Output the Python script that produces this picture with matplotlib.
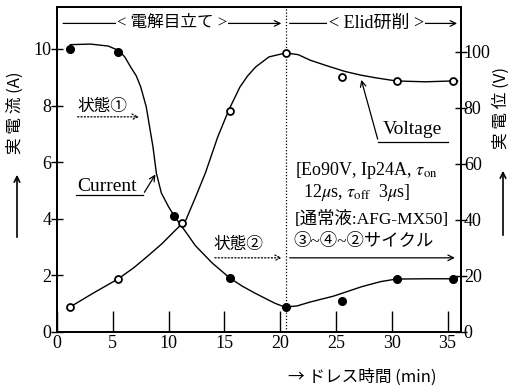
import numpy as np
from matplotlib import pyplot as plt
from matplotlib.patches import FancyArrowPatch

plt.rcParams['mathtext.fontset'] = 'stix'
SERIF = ['Liberation Serif', 'Noto Sans CJK JP']
JP = ['Noto Sans CJK JP', 'DejaVu Sans']

# measured points
cur_x = [1.2, 5.5, 10.5, 15.5, 20.5, 25.5, 30.5, 35.5]
cur_y = [10.0, 9.9, 4.1, 1.9, 0.88, 1.1, 1.87, 1.87]
volt_x = [1.2, 5.5, 11.2, 15.5, 20.5, 25.5, 30.5, 35.5]
volt_y = [9, 19, 39, 79, 99.5, 91, 89.5, 89.5]

# hand-drawn fitted curves
cur_cx = [1.2, 3.0, 4.6, 5.6, 6.1, 6.6, 7.1, 7.5, 8.0, 8.3, 8.6, 8.9, 9.35,
          10.0, 10.5, 11.6, 12.4, 13.9, 15.5, 16.6, 17.7, 18.6, 19.5, 20.4,
          21.5, 22.7, 24.8, 27.3, 29.0, 30.4, 33.0, 35.4, 35.9]
cur_cy = [10.15, 10.17, 10.1, 9.93, 9.7, 9.36, 9.05, 8.66, 7.95, 7.24, 6.54,
          5.62, 4.91, 4.42, 4.1, 3.5, 3.05, 2.44, 1.9, 1.62, 1.38, 1.2, 1.02,
          0.88, 0.92, 1.06, 1.27, 1.6, 1.78, 1.87, 1.88, 1.88, 1.95]
volt_cx = [1.2, 3.3, 5.5, 6.9, 8.1, 9.4, 10.45, 11.55, 12.4, 13.3, 14.4, 15.4,
           16.4, 17.1, 17.8, 19.0, 20.5, 21.6, 22.7, 24.2, 25.8, 27.2, 28.6,
           30.4, 33.0, 35.4, 35.9]
volt_cy = [9, 14, 19, 23, 27, 31.5, 35.7, 40, 48, 56.8, 69.6, 79.3, 87.5, 91.5,
           94.6, 98.2, 99.6, 99, 97, 95, 93, 91.7, 90.7, 89.6, 89.3, 89.6, 89.6]

x_ticks = [0, 5, 10, 15, 20, 25, 30, 35]
cur_ticks = [0, 2, 4, 6, 8, 10]
volt_ticks = [0, 20, 40, 60, 80, 100]
split_x = 20.5

fig = plt.figure(figsize=(5.12, 3.87), dpi=100)
ax = fig.add_axes([57 / 512, 1 - 332 / 387, 404 / 512, 325 / 387])
ax2 = ax.twinx()

ax.set_xlim(0, 36.2)
ax.set_ylim(0, 11.48)
ax2.set_ylim(0, 116)

ax.plot(cur_cx, cur_cy, color='black', lw=1.0)
ax.plot(cur_x, cur_y, 'o', color='black', ms=5.5)
ax2.plot(volt_cx, volt_cy, color='black', lw=1.0)
ax2.plot(volt_x, volt_y, 'o', mfc='white', mec='black', mew=1.3, ms=5)

ax.set_xticks(x_ticks)
ax.set_yticks(cur_ticks)
ax2.set_yticks(volt_ticks)
ax.tick_params(axis='x', direction='in', length=15, width=1.0, labelsize=13, pad=2)
ax.tick_params(axis='y', direction='inout', length=8, width=1.0, labelsize=13, pad=0)
ax2.tick_params(axis='y', direction='inout', length=8, width=1.0, labelsize=13, pad=-2)
for a in (ax, ax2):
    for lab in a.get_xticklabels() + a.get_yticklabels():
        lab.set_family(SERIF)
    for s in a.spines.values():
        s.set_linewidth(1.3)

ax.axvline(split_x, color='black', lw=0.9, ls=(0, (1, 1.5)))

# phase arrows along the top
ytop = 10.9
ax.annotate('', xy=(split_x - 0.15, ytop), xytext=(0.3, ytop),
            arrowprops=dict(arrowstyle='->', lw=0.9, color='black'))
ax.annotate('', xy=(36.1, ytop), xytext=(split_x + 0.1, ytop),
            arrowprops=dict(arrowstyle='->', lw=0.9, color='black'))
ax.text(10.3, ytop, '< 電解目立て >', family=SERIF, fontsize=12, ha='center',
        va='center', bbox=dict(fc='white', ec='none', pad=1))
ax.text(28.6, ytop, '< Elid研削 >', family=SERIF, fontsize=13, ha='center',
        va='center', bbox=dict(fc='white', ec='none', pad=1))

# state 1
ax.text(1.8, 7.95, '状態①', family=JP, fontsize=12, ha='left', va='center')
ax.annotate('', xy=(7.6, 7.6), xytext=(1.6, 7.6),
            arrowprops=dict(arrowstyle='->', lw=0.9, ls=':', color='black'))

# state 2
ax.text(14.0, 3.1, '状態②', family=JP, fontsize=12, ha='left', va='center')
ax.annotate('', xy=(split_x - 0.1, 2.62), xytext=(13.9, 2.62),
            arrowprops=dict(arrowstyle='->', lw=0.9, ls=':', color='black'))
ax.annotate('', xy=(35.9, 2.62), xytext=(split_x + 0.1, 2.62),
            arrowprops=dict(arrowstyle='->', lw=0.9, color='black'))

# Current label
ax.text(1.8, 5.15, 'Current', family=SERIF, fontsize=14, ha='left', va='center')
ax.plot([1.7, 7.7], [4.85, 4.85], color='black', lw=0.9)
ax.annotate('', xy=(8.95, 5.65), xytext=(7.7, 4.85),
            arrowprops=dict(arrowstyle='->', lw=0.9, color='black'))

# Voltage label
ax.text(29.2, 7.15, 'Voltage', family=SERIF, fontsize=14, ha='left', va='center')
ax.plot([28.8, 35.0], [6.72, 6.72], color='black', lw=0.9)
ax.annotate('', xy=(27.2, 9.0), xytext=(28.8, 6.72),
            arrowprops=dict(arrowstyle='->', lw=0.9, color='black'))

# condition box text
ax.text(21.3, 5.7, r'[Eo90V, Ip24A, $\tau_{\rm on}$', family=SERIF, fontsize=13,
        ha='left', va='center')
ax.text(22.0, 4.92, r'12$\mu$s, $\tau_{\rm off}$  3$\mu$s]', family=SERIF,
        fontsize=13, ha='left', va='center')
ax.text(21.3, 3.99, '[通常液:AFG-MX50]', family=SERIF, fontsize=12.5,
        ha='left', va='center')
ax.text(21.2, 3.18, '③~④~②サイクル', family=SERIF, fontsize=12.5,
        ha='left', va='center')

# axis labels
fig.text(15 / 512, 1 - 113 / 387, '実 電 流 (A)', family=JP, fontsize=12,
         rotation=90, ha='center', va='center')
fig.add_artist(FancyArrowPatch(
    (17 / 512, 1 - 240 / 387), (17 / 512, 1 - 172 / 387),
    transform=fig.transFigure, arrowstyle='->', mutation_scale=10, lw=1.2,
    color='black'))
fig.text(501 / 512, 1 - 108 / 387, '実 電 位 (V)', family=JP, fontsize=12,
         rotation=90, ha='center', va='center')
fig.add_artist(FancyArrowPatch(
    (503 / 512, 1 - 238 / 387), (503 / 512, 1 - 168 / 387),
    transform=fig.transFigure, arrowstyle='->', mutation_scale=10, lw=1.2,
    color='black'))
fig.text(288 / 512, 1 - 377 / 387, '→ ドレス時間 (min)', family=JP, fontsize=12,
         ha='left', va='center')

plt.savefig('out.png', dpi=100)
